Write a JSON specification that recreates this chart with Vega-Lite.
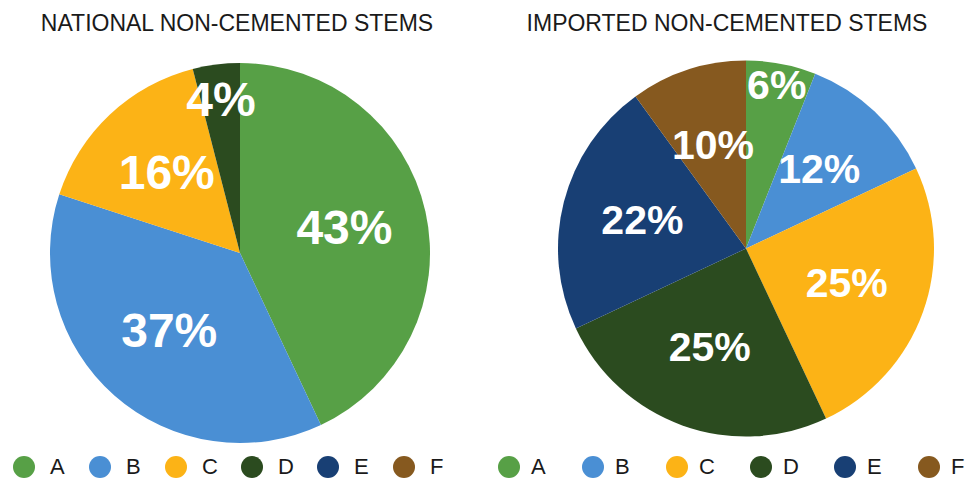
{
  "$schema": "https://vega.github.io/schema/vega-lite/v6.json",
  "background": "white",
  "padding": {"top": 13, "left": 0, "right": 0, "bottom": 0},
  "spacing": 18,
  "config": {
    "view": {"stroke": null},
    "title": {"font": "Liberation Sans", "fontSize": 23, "fontWeight": "normal", "color": "#1a1a1a", "anchor": "middle", "offset": 19},
    "legend": {
      "orient": "none",
      "direction": "horizontal",
      "symbolType": "circle",
      "symbolSize": 484,
      "symbolStrokeWidth": 0,
      "symbolOpacity": 1,
      "labelFont": "Liberation Sans",
      "labelFontSize": 22,
      "labelColor": "#1a1a1a",
      "gridAlign": "all",
      "title": null
    }
  },
  "datasets": {
    "national": [
      {"cat": "A", "value": 0.43},
      {"cat": "B", "value": 0.37},
      {"cat": "C", "value": 0.16},
      {"cat": "D", "value": 0.04}
    ],
    "imported": [
      {"cat": "A", "value": 0.06},
      {"cat": "B", "value": 0.12},
      {"cat": "C", "value": 0.25},
      {"cat": "D", "value": 0.25},
      {"cat": "E", "value": 0.22},
      {"cat": "F", "value": 0.10}
    ]
  },
  "hconcat": [
    {
      "width": 480,
      "height": 396,
      "title": {"text": "NATIONAL NON-CEMENTED STEMS", "dx": -3},
      "data": {"name": "national"},
      "encoding": {
        "theta": {"field": "value", "type": "quantitative", "stack": true},
        "order": {"field": "cat", "type": "ordinal"}
      },
      "layer": [
        {
          "mark": {"type": "arc", "outerRadius": 190},
          "encoding": {
            "color": {
              "field": "cat", "type": "nominal",
              "scale": {"domain": ["A", "B", "C", "D", "E", "F"], "range": ["#57a046", "#4a8fd4", "#fcb316", "#2b4b1f", "#183f74", "#86591f"]},
              "legend": {"legendX": 13, "legendY": 401, "labelOffset": 15, "columnPadding": 23}
            }
          }
        },
        {
          "mark": {"type": "text", "radius": 107, "fill": "white", "font": "Liberation Sans", "fontSize": 48, "fontWeight": "bold"},
          "encoding": {"text": {"condition": {"test": "datum.value >= 0.1", "field": "value", "type": "quantitative", "format": ".0%"}, "value": ""}}
        },
        {
          "mark": {"type": "text", "radius": 152, "fill": "white", "font": "Liberation Sans", "fontSize": 48, "fontWeight": "bold"},
          "encoding": {"text": {"condition": {"test": "datum.value < 0.1", "field": "value", "type": "quantitative", "format": ".0%"}, "value": ""}}
        }
      ]
    },
    {
      "width": 454,
      "height": 387,
      "title": {"text": "IMPORTED NON-CEMENTED STEMS", "dx": -19},
      "data": {"name": "imported"},
      "encoding": {
        "theta": {"field": "value", "type": "quantitative", "stack": true},
        "order": {"field": "cat", "type": "ordinal"}
      },
      "layer": [
        {
          "mark": {"type": "arc", "outerRadius": 188},
          "encoding": {
            "color": {
              "field": "cat", "type": "nominal",
              "scale": {"domain": ["A", "B", "C", "D", "E", "F"], "range": ["#57a046", "#4a8fd4", "#fcb316", "#2b4b1f", "#183f74", "#86591f"]},
              "legend": {"legendX": -21, "legendY": 401, "labelOffset": 11, "columnPadding": 35}
            }
          }
        },
        {
          "mark": {"type": "text", "radius": 107, "fill": "white", "font": "Liberation Sans", "fontSize": 41, "fontWeight": "bold"},
          "encoding": {"text": {"condition": {"test": "datum.value >= 0.1", "field": "value", "type": "quantitative", "format": ".0%"}, "value": ""}}
        },
        {
          "mark": {"type": "text", "radius": 164, "fill": "white", "font": "Liberation Sans", "fontSize": 41, "fontWeight": "bold"},
          "encoding": {"text": {"condition": {"test": "datum.value < 0.1", "field": "value", "type": "quantitative", "format": ".0%"}, "value": ""}}
        }
      ]
    }
  ],
  "resolve": {"scale": {"color": "independent"}, "legend": {"color": "independent"}}
}
